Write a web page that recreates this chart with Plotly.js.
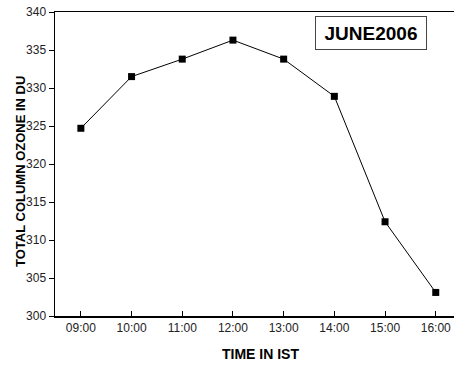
<!DOCTYPE html>
<html><head><meta charset="utf-8">
<script src="https://cdn.plot.ly/plotly-3.0.1.min.js"></script>
<style>html,body{margin:0;padding:0;background:#fff;}#chart{width:454px;height:365px;}</style>
</head><body><div id="chart"></div>
<script>
var times = ["09:00","10:00","11:00","12:00","13:00","14:00","15:00","16:00"];
var ozone = [324.7, 331.5, 333.8, 336.3, 333.8, 328.9, 312.4, 303.1];
var yTicks = [300,305,310,315,320,325,330,335,340];
var label = "JUNE2006";
var xTitle = "TIME IN IST";
var yTitle = "TOTAL COLUMN OZONE IN DU";

var trace = {
  x: times.map(function(_, i){ return i; }),
  y: ozone,
  mode: "lines+markers",
  line: {color: "#000", width: 1},
  marker: {symbol: "square", size: 7, color: "#000"},
  hoverinfo: "none"
};
var W = 399, H = 304, L = 55, T = 12;
var layout = {
  width: 454, height: 365,
  margin: {l: L, r: 0, t: T, b: 49},
  paper_bgcolor: "#fff", plot_bgcolor: "#fff",
  showlegend: false,
  font: {family: "Liberation Sans, Arial, sans-serif", color: "#222"},
  xaxis: {
    range: [-0.51, 7.36],
    tickmode: "array", tickvals: times.map(function(_, i){ return i; }), ticktext: times,
    ticks: "inside", ticklen: 5, tickwidth: 1, tickcolor: "#000",
    showline: true, linecolor: "#000", linewidth: 1.5, mirror: true,
    showgrid: false, zeroline: false,
    tickfont: {size: 12, color: "#222"}
  },
  yaxis: {
    range: [300, 340],
    tickmode: "array", tickvals: yTicks,
    ticks: "outside", ticklen: 5, tickwidth: 1, tickcolor: "#000",
    showline: true, linecolor: "#000", linewidth: 1.5,
    showgrid: false, zeroline: false,
    tickfont: {size: 12, color: "#222"}
  },
  annotations: [{
    xref: "paper", yref: "paper",
    x: (371 - L) / W, y: 1 - (33 - T) / H,
    xanchor: "center", yanchor: "middle",
    text: "<b>" + label + "</b>", showarrow: false,
    font: {size: 19, color: "#000"},
    bordercolor: "#444", borderwidth: 1, borderpad: 5, bgcolor: "#fff",
    width: 100, height: 22
  }, {
    xref: "paper", yref: "paper",
    x: (260 - L) / W, y: 1 - (354 - T) / H,
    xanchor: "center", yanchor: "middle",
    text: "<b>" + xTitle + "</b>", showarrow: false,
    font: {size: 14, color: "#000"}
  }, {
    xref: "paper", yref: "paper",
    x: (20 - L) / W, y: 1 - (172 - T) / H,
    xanchor: "center", yanchor: "middle", textangle: -90,
    text: "<b>" + yTitle + "</b>", showarrow: false,
    font: {size: 13, color: "#000"}
  }]
};
Plotly.newPlot("chart", [trace], layout, {displayModeBar: false, staticPlot: true});
</script></body></html>
